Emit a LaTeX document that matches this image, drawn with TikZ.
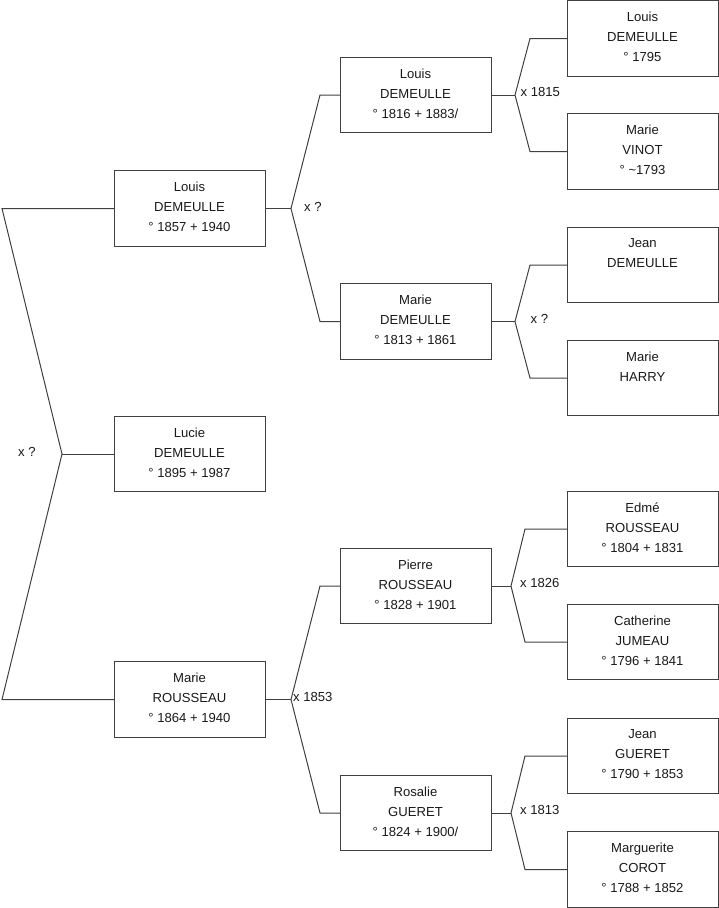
\documentclass[tikz,border=0pt]{standalone}
\usepackage{fontspec}
\setmainfont{Liberation Sans}
\begin{document}
\begin{tikzpicture}[x=1pt,y=-1pt,
  pbox/.style={draw=black!75, line width=1pt, minimum width=151pt, minimum height=75.5pt, inner sep=0pt, outer sep=0pt},
  ptext/.style={anchor=north, align=center, inner sep=0pt, font=\fontsize{13.1}{20}\selectfont, text=black!90},
  link/.style={draw=black!75, line width=1pt},
  mlabel/.style={anchor=west, inner sep=0pt, font=\fontsize{13.1}{20}\selectfont, text=black!90}]
\useasboundingbox (0,0) rectangle (719,908);

% generation 1
\node[pbox] (g1a) at (189.5,208.5) {};
\node[pbox] (g1b) at (189.5,454) {};
\node[pbox] (g1c) at (189.5,699.5) {};
% generation 2
\node[pbox] (g2a) at (415.5,95) {};
\node[pbox] (g2b) at (415.5,321.5) {};
\node[pbox] (g2c) at (415.5,586) {};
\node[pbox] (g2d) at (415.5,813) {};
% generation 3
\node[pbox] (g3a) at (642.5,38.5) {};
\node[pbox] (g3b) at (642.5,151.5) {};
\node[pbox] (g3c) at (642.5,265) {};
\node[pbox] (g3d) at (642.5,378) {};
\node[pbox] (g3e) at (642.5,529) {};
\node[pbox] (g3f) at (642.5,642) {};
\node[pbox] (g3g) at (642.5,756) {};
\node[pbox] (g3h) at (642.5,869.5) {};

% texts
\node[ptext] (t1a) at ([yshift=-11.3pt]g1a.north) {Louis\\DEMEULLE\\° 1857 + 1940};
\node[ptext] (t1b) at ([yshift=-11.3pt]g1b.north) {Lucie\\DEMEULLE\\° 1895 + 1987};
\node[ptext] (t1c) at ([yshift=-11.3pt]g1c.north) {Marie\\ROUSSEAU\\° 1864 + 1940};
\node[ptext] (t2a) at ([yshift=-11.3pt]g2a.north) {Louis\\DEMEULLE\\° 1816 + 1883/};
\node[ptext] (t2b) at ([yshift=-11.3pt]g2b.north) {Marie\\DEMEULLE\\° 1813 + 1861};
\node[ptext] (t2c) at ([yshift=-11.3pt]g2c.north) {Pierre\\ROUSSEAU\\° 1828 + 1901};
\node[ptext] (t2d) at ([yshift=-11.3pt]g2d.north) {Rosalie\\GUERET\\° 1824 + 1900/};
\node[ptext] (t3a) at ([yshift=-11.3pt]g3a.north) {Louis\\DEMEULLE\\° 1795};
\node[ptext] (t3b) at ([yshift=-11.3pt]g3b.north) {Marie\\VINOT\\° \textasciitilde1793};
\node[ptext] (t3c) at ([yshift=-11.3pt]g3c.north) {Jean\\DEMEULLE};
\node[ptext] (t3d) at ([yshift=-11.3pt]g3d.north) {Marie\\HARRY};
\node[ptext] (t3e) at ([yshift=-11.3pt]g3e.north) {Edmé\\ROUSSEAU\\° 1804 + 1831};
\node[ptext] (t3f) at ([yshift=-11.3pt]g3f.north) {Catherine\\JUMEAU\\° 1796 + 1841};
\node[ptext] (t3g) at ([yshift=-11.3pt]g3g.north) {Jean\\GUERET\\° 1790 + 1853};
\node[ptext] (t3h) at ([yshift=-11.3pt]g3h.north) {Marguerite\\COROT\\° 1788 + 1852};

% fork points
\coordinate (f0) at (62,454);   \coordinate (c0a) at (2,208.5); \coordinate (c0b) at (2,699.5);
\coordinate (f1) at (291,208.5); \coordinate (c1a) at (320,95);  \coordinate (c1b) at (320,321.5);
\coordinate (f2) at (515,95);   \coordinate (c2a) at (530,38.5); \coordinate (c2b) at (530,151.5);
\coordinate (f3) at (515,321.5); \coordinate (c3a) at (530,265); \coordinate (c3b) at (530,378);
\coordinate (f4) at (291,699.5); \coordinate (c4a) at (320,586); \coordinate (c4b) at (320,813);
\coordinate (f5) at (511,586);  \coordinate (c5a) at (525,529); \coordinate (c5b) at (525,642);
\coordinate (f6) at (511,813);  \coordinate (c6a) at (525,756); \coordinate (c6b) at (525,869.5);

% connectors
\draw[link] (g1a.west) -- (c0a) -- (f0) -- (c0b) -- (g1c.west);
\draw[link] (f0) -- (g1b.west);
\draw[link] (g1a.east) -- (f1);
\draw[link] (g2a.west) -- (c1a) -- (f1) -- (c1b) -- (g2b.west);
\draw[link] (g1c.east) -- (f4);
\draw[link] (g2c.west) -- (c4a) -- (f4) -- (c4b) -- (g2d.west);
\draw[link] (g2a.east) -- (f2);
\draw[link] (g3a.west) -- (c2a) -- (f2) -- (c2b) -- (g3b.west);
\draw[link] (g2b.east) -- (f3);
\draw[link] (g3c.west) -- (c3a) -- (f3) -- (c3b) -- (g3d.west);
\draw[link] (g2c.east) -- (f5);
\draw[link] (g3e.west) -- (c5a) -- (f5) -- (c5b) -- (g3f.west);
\draw[link] (g2d.east) -- (f6);
\draw[link] (g3g.west) -- (c6a) -- (f6) -- (c6b) -- (g3h.west);

% marriage labels
\node[mlabel] (m0) at (18,452) {x ?};
\node[mlabel] (m1) at (304,207) {x ?};
\node[mlabel] (m2) at (520.5,92) {x 1815};
\node[mlabel] (m3) at (530.5,319) {x ?};
\node[mlabel] (m4) at (293,697) {x 1853};
\node[mlabel] (m5) at (520,583) {x 1826};
\node[mlabel] (m6) at (520,810) {x 1813};
\end{tikzpicture}
\end{document}
